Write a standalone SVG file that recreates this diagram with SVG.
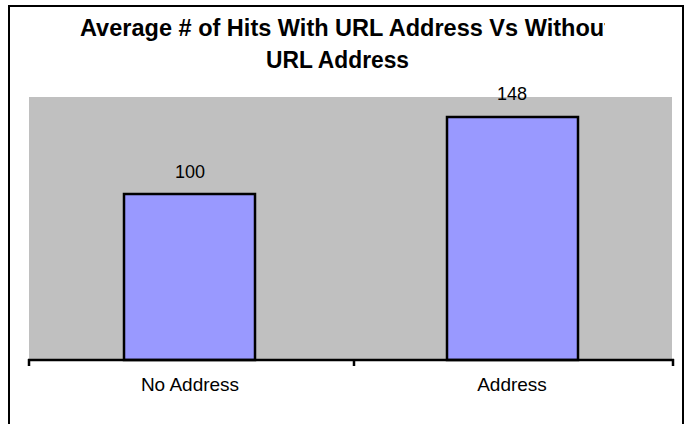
<svg xmlns="http://www.w3.org/2000/svg" width="687" height="424" viewBox="0 0 687 424">
<defs>
<style>
.t{font-family:"Liberation Sans",Arial,sans-serif;font-weight:bold;font-size:23px;fill:#000}
.l{font-family:"Liberation Sans",Arial,sans-serif;font-size:19px;fill:#000;text-anchor:middle}
.v{font-family:"Liberation Sans",Arial,sans-serif;font-size:18px;fill:#000;text-anchor:middle}
.bar{fill:#9999ff;stroke:#000;stroke-width:2.5}
</style>
<clipPath id="tc"><rect x="0" y="0" width="605" height="424"/></clipPath>
</defs>
<rect x="0" y="0" width="687" height="424" fill="#fff"/>
<rect x="9" y="6" width="674" height="430" fill="none" stroke="#000" stroke-width="2"/>
<g id="title">
<text class="t" x="80" y="36" textLength="532" lengthAdjust="spacingAndGlyphs" clip-path="url(#tc)">Average # of Hits With URL Address Vs Without</text>
<text class="t" x="266" y="68" textLength="143" lengthAdjust="spacingAndGlyphs">URL Address</text>
</g>
<rect id="plot" x="29" y="97" width="643" height="262" fill="#c0c0c0"/>
<g id="bar-no-address">
<rect class="bar" x="124" y="194" width="131" height="166"/>
<text class="v" x="190" y="178">100</text>
</g>
<g id="bar-address">
<rect class="bar" x="447" y="117" width="131" height="243"/>
<text class="v" x="512" y="100">148</text>
</g>
<g id="axis" stroke="#000" stroke-width="2.5" fill="none">
<line x1="28" y1="360" x2="674" y2="360"/>
<line x1="29" y1="359" x2="29" y2="366"/>
<line x1="354" y1="359" x2="354" y2="366"/>
<line x1="673" y1="359" x2="673" y2="366"/>
</g>
<text class="l" x="190" y="391">No Address</text>
<text class="l" x="512" y="391">Address</text>
</svg>
